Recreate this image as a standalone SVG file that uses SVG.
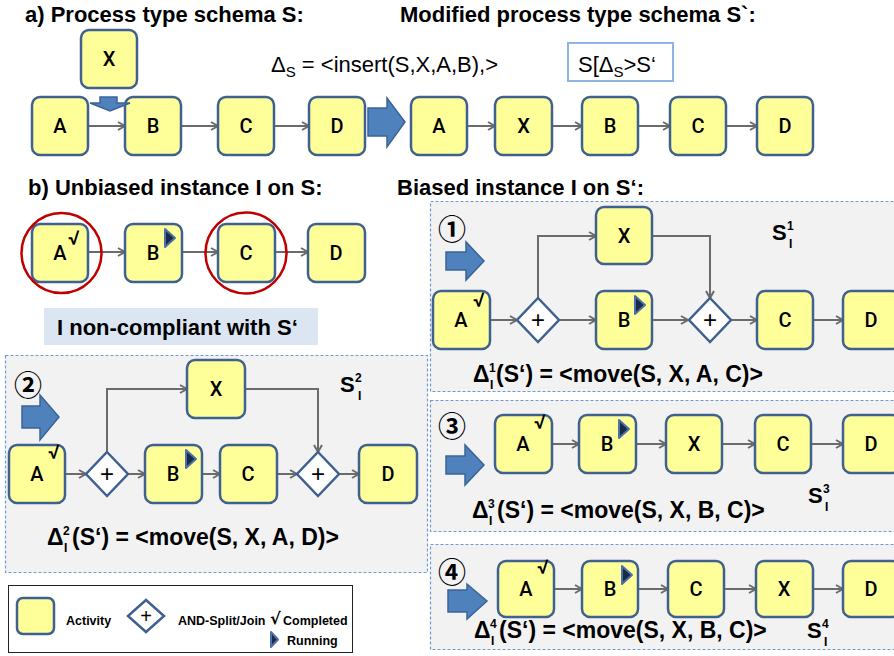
<svg xmlns="http://www.w3.org/2000/svg" width="894" height="656" viewBox="0 0 894 656">
<defs>
<style>
.n rect{fill:#FFFF99;stroke:#3F6190;stroke-width:2.5}
.n text{font-family:Roboto,"Liberation Sans",sans-serif;font-weight:500;font-size:20px;text-anchor:middle;fill:#000}
.dm polygon{fill:#fff;stroke:#3F6190;stroke-width:2.5}
.dm text{font-family:"Liberation Sans",sans-serif;font-size:24px;text-anchor:middle;fill:#000}
.ck{font-family:"DejaVu Sans",sans-serif;font-size:15px;font-weight:bold;fill:#000}
.run{fill:#1C2A48;stroke:#4A72A8;stroke-width:2;stroke-linejoin:round}
.c{fill:none;stroke:#6B6B6B;stroke-width:2;marker-end:url(#ah)}
.ttl{font-family:"Liberation Sans",Arial,sans-serif;font-weight:bold;font-size:22px;fill:#000}
.dl{font-family:"Liberation Sans",Arial,sans-serif;font-weight:bold;font-size:23px;fill:#000}
.sm{font-family:"Liberation Sans",Arial,sans-serif;font-weight:bold;font-size:12px;fill:#000}
.reg{font-family:"Liberation Sans",Arial,sans-serif;font-size:22px;fill:#000}
.ba{fill:#4F81BD;stroke:#3B6496;stroke-width:1.5}
.panel{fill:#F2F2F2;stroke:#6F9AD0;stroke-width:1.2;stroke-dasharray:3 2}
.num{font-family:"Noto Sans CJK JP","DejaVu Sans",sans-serif;font-size:28px;font-weight:bold;fill:#000}
.lg{font-family:"Liberation Sans",Arial,sans-serif;font-weight:bold;font-size:12.5px;fill:#000}
</style>
<marker id="ah" markerWidth="10" markerHeight="10" refX="8" refY="5" orient="auto" markerUnits="userSpaceOnUse">
<path d="M1,1 L8,5 L1,9" fill="none" stroke="#6B6B6B" stroke-width="2"/>
</marker>
</defs>
<rect x="0" y="0" width="894" height="656" fill="#fff"/>

<!-- panels -->
<rect class="panel" x="5.5" y="355.5" width="422" height="217"/>
<rect class="panel" x="430.5" y="201.5" width="470" height="190"/>
<rect class="panel" x="430.5" y="400.5" width="470" height="131"/>
<rect class="panel" x="430.5" y="544.5" width="470" height="105"/>

<!-- titles -->
<text class="ttl" x="25" y="22">a) Process type schema S:</text>
<text class="ttl" x="400" y="22">Modified process type schema S`:</text>
<text class="ttl" x="28" y="195">b) Unbiased instance I on S:</text>
<text class="ttl" x="397" y="195">Biased instance I on S‘:</text>

<text class="reg" x="271" y="72">Δ<tspan font-size="15" dy="5">S</tspan><tspan dy="-5"> = &lt;insert(S,X,A,B),&gt;</tspan></text>
<g id="sbox">
<rect x="568" y="43" width="105" height="38" fill="#fff" stroke="#8DB4E2" stroke-width="2"/>
<text class="reg" x="578" y="72">S[Δ<tspan font-size="15" dy="5">S</tspan><tspan dy="-5">&gt;S‘</tspan></text>
</g>

<!-- connectors -->
<g id="connectors">
<line class="c" x1="88" y1="126" x2="125" y2="126"/>
<line class="c" x1="181" y1="126" x2="218" y2="126"/>
<line class="c" x1="274" y1="126" x2="309" y2="126"/>
<line class="c" x1="467" y1="126" x2="495" y2="126"/>
<line class="c" x1="552" y1="126" x2="582" y2="126"/>
<line class="c" x1="638" y1="126" x2="670" y2="126"/>
<line class="c" x1="726" y1="126" x2="757" y2="126"/>
<line class="c" x1="88" y1="252" x2="125" y2="252"/>
<line class="c" x1="182" y1="252" x2="218" y2="252"/>
<line class="c" x1="275" y1="252" x2="308" y2="252"/>
<line class="c" x1="490" y1="320" x2="517" y2="320"/>
<polyline class="c" points="538,298 538,236 596,236"/>
<polyline class="c" points="652,236 710,236 710,298"/>
<line class="c" x1="559" y1="320" x2="596" y2="320"/>
<line class="c" x1="652" y1="320" x2="688" y2="320"/>
<line class="c" x1="731" y1="320" x2="757" y2="320"/>
<line class="c" x1="813" y1="320" x2="843" y2="320"/>
<line class="c" x1="65" y1="474" x2="86" y2="474"/>
<polyline class="c" points="107,452 107,389 187,389"/>
<polyline class="c" points="245,389 318,389 318,452"/>
<line class="c" x1="128" y1="474" x2="145" y2="474"/>
<line class="c" x1="202" y1="474" x2="220" y2="474"/>
<line class="c" x1="277" y1="474" x2="297" y2="474"/>
<line class="c" x1="339" y1="474" x2="359" y2="474"/>
<line class="c" x1="552" y1="444" x2="579" y2="444"/>
<line class="c" x1="636" y1="444" x2="666" y2="444"/>
<line class="c" x1="722" y1="444" x2="755" y2="444"/>
<line class="c" x1="811" y1="444" x2="843" y2="444"/>
<line class="c" x1="554" y1="589" x2="582" y2="589"/>
<line class="c" x1="638" y1="589" x2="668" y2="589"/>
<line class="c" x1="724" y1="589" x2="756" y2="589"/>
<line class="c" x1="813" y1="589" x2="843" y2="589"/>
</g>

<!-- top row nodes (S) -->
<g id="sA" class="n"><rect x="32" y="97" width="56" height="58" rx="8"/><text x="60" y="133">A</text></g>
<g id="sX" class="n"><rect x="81" y="30" width="56" height="58" rx="8"/><text x="109" y="66">X</text></g>
<g id="sB" class="n"><rect x="125" y="97" width="56" height="58" rx="8"/><text x="153" y="133">B</text></g>
<g id="sC" class="n"><rect x="218" y="97" width="56" height="58" rx="8"/><text x="246" y="133">C</text></g>
<g id="sD" class="n"><rect x="309" y="97" width="56" height="58" rx="8"/><text x="337" y="133">D</text></g>
<path id="insertArrow" class="ba" d="M100,97 L117,97 L117,103 L130,103 L110,111 L90,103 L100,103 Z"/>
<path id="bigArrow" class="ba" d="M368,108 L387,108 L387,98 L405,122 L387,147 L387,136 L368,136 Z"/>

<!-- S' nodes -->
<g id="s2A" class="n"><rect x="411" y="97" width="56" height="58" rx="8"/><text x="439" y="133">A</text></g>
<g id="s2X" class="n"><rect x="495" y="97" width="57" height="58" rx="8"/><text x="523.5" y="133">X</text></g>
<g id="s2B" class="n"><rect x="582" y="97" width="56" height="58" rx="8"/><text x="610" y="133">B</text></g>
<g id="s2C" class="n"><rect x="670" y="97" width="56" height="58" rx="8"/><text x="698" y="133">C</text></g>
<g id="s2D" class="n"><rect x="757" y="97" width="56" height="58" rx="8"/><text x="785" y="133">D</text></g>

<!-- b) instance -->
<g id="iA" class="n"><rect x="32" y="224" width="56" height="58" rx="8"/><text x="60" y="260">A</text><text class="ck" x="68" y="245" style="text-anchor:start">√</text></g>
<g id="iB" class="n"><rect x="125" y="224" width="57" height="58" rx="8"/><text x="153" y="260">B</text><polygon class="run" points="165,229 175,238 165,247"/></g>
<g id="iC" class="n"><rect x="218" y="224" width="57" height="58" rx="8"/><text x="246" y="260">C</text></g>
<g id="iD" class="n"><rect x="308" y="224" width="57" height="58" rx="8"/><text x="336" y="260">D</text></g>
<circle cx="61.5" cy="253" r="40" fill="none" stroke="#C00000" stroke-width="2.5"/>
<circle cx="246" cy="253" r="40.5" fill="none" stroke="#C00000" stroke-width="2.5"/>
<g id="noncomp">
<rect x="44" y="308" width="274" height="37" fill="#DCE6F2"/>
<text class="ttl" x="57" y="335">I non-compliant with S‘</text>
</g>

<!-- Box 1 -->
<text class="num" x="438" y="240">①</text>
<path class="ba" d="M446,252 L466,252 L466,242 L484,261 L466,280 L466,270 L446,270 Z"/>
<g id="b1A" class="n"><rect x="433" y="291" width="57" height="58" rx="8"/><text x="461" y="327">A</text><text class="ck" x="473" y="307" style="text-anchor:start">√</text></g>
<g id="b1J1" class="dm"><polygon points="538,298 559,320 538,342 517,320"/><text x="538" y="328">+</text></g>
<g id="b1X" class="n"><rect x="596" y="207" width="56" height="57" rx="8"/><text x="624" y="243">X</text></g>
<g id="b1B" class="n"><rect x="596" y="291" width="56" height="58" rx="8"/><text x="624" y="327">B</text><polygon class="run" points="635,296 645,305 635,314"/></g>
<g id="b1J2" class="dm"><polygon points="710,298 731,320 710,342 689,320"/><text x="710" y="328">+</text></g>
<g id="b1C" class="n"><rect x="757" y="291" width="56" height="58" rx="8"/><text x="785" y="327">C</text></g>
<g id="b1D" class="n"><rect x="843" y="291" width="57" height="58" rx="8"/><text x="871" y="327">D</text></g>
<text class="ttl" x="772" y="240">S</text><text class="sm" x="787" y="230">1</text><text class="sm" x="789" y="248">I</text>
<text class="dl" x="473" y="382">Δ</text><text class="sm" x="489" y="372">1</text><text class="sm" x="490" y="389">I</text><text class="dl" x="496" y="382">(S‘) = &lt;move(S, X, A, C)&gt;</text>

<!-- Box 2 -->
<text class="num" x="14" y="396">②</text>
<path class="ba" d="M22,406 L40,406 L40,395 L59,417 L40,440 L40,428 L22,428 Z"/>
<g id="b2A" class="n"><rect x="9" y="445" width="56" height="58" rx="8"/><text x="37" y="481">A</text><text class="ck" x="48" y="459" style="text-anchor:start">√</text></g>
<g id="b2J1" class="dm"><polygon points="107,452 128,474 107,496 86,474"/><text x="107" y="482">+</text></g>
<g id="b2X" class="n"><rect x="187" y="360" width="58" height="58" rx="8"/><text x="216" y="396">X</text></g>
<g id="b2B" class="n"><rect x="145" y="445" width="57" height="58" rx="8"/><text x="173" y="481">B</text><polygon class="run" points="186,450 196,459 186,468"/></g>
<g id="b2C" class="n"><rect x="220" y="445" width="57" height="58" rx="8"/><text x="248" y="481">C</text></g>
<g id="b2J2" class="dm"><polygon points="318,452 339,474 318,496 297,474"/><text x="318" y="482">+</text></g>
<g id="b2D" class="n"><rect x="359" y="445" width="58" height="58" rx="8"/><text x="388" y="481">D</text></g>
<text class="ttl" x="340" y="392">S</text><text class="sm" x="355" y="382">2</text><text class="sm" x="358" y="400">I</text>
<text class="dl" x="47" y="545">Δ</text><text class="sm" x="63" y="535">2</text><text class="sm" x="64" y="552">I</text><text class="dl" x="72" y="545">(S‘) = &lt;move(S, X, A, D)&gt;</text>

<!-- Box 3 -->
<text class="num" x="438" y="437">③</text>
<path class="ba" d="M446,456 L465,456 L465,445 L484,465 L465,485 L465,474 L446,474 Z"/>
<g id="b3A" class="n"><rect x="495" y="415" width="57" height="58" rx="8"/><text x="523" y="451">A</text><text class="ck" x="534" y="429" style="text-anchor:start">√</text></g>
<g id="b3B" class="n"><rect x="579" y="415" width="57" height="58" rx="8"/><text x="607" y="451">B</text><polygon class="run" points="619,420 629,429 619,438"/></g>
<g id="b3X" class="n"><rect x="666" y="415" width="56" height="58" rx="8"/><text x="694" y="451">X</text></g>
<g id="b3C" class="n"><rect x="755" y="415" width="56" height="58" rx="8"/><text x="783" y="451">C</text></g>
<g id="b3D" class="n"><rect x="843" y="415" width="57" height="58" rx="8"/><text x="871" y="451">D</text></g>
<text class="ttl" x="808" y="503">S</text><text class="sm" x="823" y="493">3</text><text class="sm" x="825" y="511">I</text>
<text class="dl" x="472" y="518">Δ</text><text class="sm" x="488" y="508">3</text><text class="sm" x="489" y="525">I</text><text class="dl" x="497" y="518">(S‘) = &lt;move(S, X, B, C)&gt;</text>

<!-- Box 4 -->
<text class="num" x="438" y="583">④</text>
<path class="ba" d="M448,590 L467,590 L467,584 L487,601 L467,619 L467,612 L448,612 Z"/>
<g id="b4A" class="n"><rect x="498" y="561" width="56" height="56" rx="8"/><text x="526" y="596">A</text><text class="ck" x="537" y="574" style="text-anchor:start">√</text></g>
<g id="b4B" class="n"><rect x="582" y="561" width="56" height="56" rx="8"/><text x="610" y="596">B</text><polygon class="run" points="622,566 632,575 622,584"/></g>
<g id="b4C" class="n"><rect x="668" y="561" width="56" height="56" rx="8"/><text x="696" y="596">C</text></g>
<g id="b4X" class="n"><rect x="756" y="561" width="57" height="56" rx="8"/><text x="784" y="596">X</text></g>
<g id="b4D" class="n"><rect x="843" y="561" width="57" height="56" rx="8"/><text x="871" y="596">D</text></g>
<text class="ttl" x="807" y="638">S</text><text class="sm" x="822" y="628">4</text><text class="sm" x="824" y="646">I</text>
<text class="dl" x="474" y="638">Δ</text><text class="sm" x="490" y="628">4</text><text class="sm" x="491" y="645">I</text><text class="dl" x="499" y="638">(S‘) = &lt;move(S, X, B, C)&gt;</text>

<!-- legend -->
<g id="legend">
<rect x="8.5" y="585.5" width="344" height="67" fill="#fff" stroke="#222" stroke-width="1"/>
<rect x="17" y="598" width="37" height="36" rx="6" fill="#FFFF99" stroke="#3F6190" stroke-width="2.5"/>
<text class="lg" x="66" y="625">Activity</text>
<polygon points="146,600 164,616 146,632 128,616" fill="#fff" stroke="#3F6190" stroke-width="2.5"/>
<text x="146" y="623" font-family="Liberation Sans,sans-serif" font-size="20" text-anchor="middle">+</text>
<text class="lg" x="178" y="625">AND-Split/Join</text>
<text x="270" y="624" font-family="DejaVu Sans,sans-serif" font-size="16" font-weight="bold">√</text>
<text class="lg" x="283" y="625">Completed</text>
<polygon class="run" points="271,632 278,639.5 271,647"/>
<text class="lg" x="287" y="645">Running</text>
</g>
</svg>
